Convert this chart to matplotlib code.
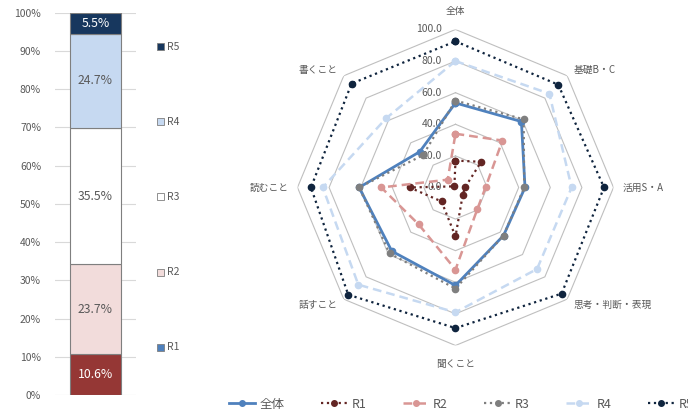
import numpy as np
import matplotlib
matplotlib.use("Agg")
import matplotlib.pyplot as plt
from matplotlib.patches import Rectangle
from matplotlib.lines import Line2D

plt.rcParams['font.family'] = ['Noto Sans CJK JP', 'DejaVu Sans']

# ---- data ----
bar_labels = ['R1', 'R2', 'R3', 'R4', 'R5']
bar_values = [10.6, 23.7, 35.5, 24.7, 5.5]
bar_colors = ['#953735', '#f2dcdb', '#ffffff', '#c6d9f1', '#17375e']
bar_text_colors = ['white', '#595959', '#595959', '#595959', 'white']
legend_sq_colors = ['#4f81bd', '#f2dcdb', '#ffffff', '#c6d9f1', '#17375e']

radar_axes = ['全体', '基礎B・C', '活用S・A', '思考・判断・表現', '聞くこと', '話すこと', '読むこと', '書くこと']
series_names = ['全体', 'R1', 'R2', 'R3', 'R4', 'R5']
zentai = [53.5, 59, 44, 43, 62, 57, 61, 32]
r1 = [17, 23, 6, 6.5, 31, 12.5, 29, 1]
r2 = [34, 42, 19, 19.5, 52, 33, 47, 7]
r3 = [55, 61, 43.5, 43, 64, 59, 61, 29]
r4 = [80, 84, 73.5, 73, 79, 87, 84, 62]
r5 = [92.5, 92, 94, 95, 89, 96, 91.5, 93]
ring_values = [0, 20, 40, 60, 80, 100]

TXT = '#595959'
FS = 7.5

fig = plt.figure(figsize=(6.88, 4.11), dpi=100)

# ---- stacked bar ----
axb = fig.add_axes([55/688, 16/411, 81/688, 382.3/411])
bottom = 0
for v, c, tc in zip(bar_values, bar_colors, bar_text_colors):
    axb.bar(0, v, bottom=bottom, width=0.64, color=c, edgecolor='#7f7f7f', linewidth=0.8, zorder=3)
    axb.text(0, bottom + v/2, f'{v:.1f}%', ha='center', va='center', color=tc, fontsize=8.8, zorder=4)
    bottom += v
axb.set_xlim(-0.5, 0.5)
axb.set_ylim(0, 100)
axb.set_yticks(np.arange(0, 101, 10))
axb.set_yticklabels([f'{t}%' for t in range(0, 101, 10)])
axb.tick_params(axis='y', length=0, pad=10, labelsize=FS, labelcolor=TXT)
axb.set_xticks([])
axb.grid(axis='y', color='#d9d9d9', linewidth=0.8, zorder=0)
for s in axb.spines.values():
    s.set_visible(False)

# bar legend
leg_y = [347, 272, 197, 122, 47]
for name, c, y in zip(bar_labels, legend_sq_colors, leg_y):
    fig.patches.append(Rectangle((157/688, (411 - y - 3.5)/411), 7/688, 7/411,
                                 transform=fig.transFigure, facecolor=c,
                                 edgecolor='#7f7f7f', linewidth=0.6))
    fig.text(167/688, (411 - y)/411, name, ha='left', va='center', fontsize=FS, color=TXT)

# ---- radar ----
axr = fig.add_axes([0.4324, 0.1594, 0.4593, 0.7689], projection='polar')
axr.set_theta_zero_location('N')
axr.set_theta_direction(-1)
axr.set_ylim(0, 100)
axr.grid(False)
axr.set_xticks([])
axr.set_yticks([])
axr.spines['polar'].set_visible(False)
axr.patch.set_alpha(0)

n = len(radar_axes)
theta = np.arange(n) * 2*np.pi/n
tc = np.append(theta, theta[0])
for rv in ring_values[1:]:
    axr.plot(tc, [rv]*(n+1), color='#bfbfbf', linewidth=0.8, zorder=1)

for rv in ring_values:
    axr.annotate(f'{rv:.1f}', (0, rv), xytext=(-10, 0), textcoords='offset points',
                 ha='right', va='center', fontsize=FS, color=TXT, zorder=2)

for t, lab in zip(theta, radar_axes):
    s = np.sin(t)
    if abs(s) < 0.1:
        ha, lr = 'center', 111.5
    else:
        ha, lr = ('left' if s > 0 else 'right'), 105.5
    axr.text(t, lr, lab, ha=ha, va='center', fontsize=7, color=TXT, clip_on=False)

styles = [
    dict(color='#4f81bd', ls='-', lw=2.0, mfc='#4f81bd'),
    dict(color='#632523', ls=':', lw=1.6, mfc='#632523'),
    dict(color='#d99694', ls=(0, (3.5, 2)), lw=1.8, mfc='#d99694'),
    dict(color='#7f7f7f', ls=':', lw=1.6, mfc='#7f7f7f'),
    dict(color='#c6d9f1', ls=(0, (3.5, 2)), lw=1.8, mfc='#c6d9f1'),
    dict(color='#0f243e', ls=':', lw=1.6, mfc='#0f243e'),
]
all_series = [zentai, r1, r2, r3, r4, r5]
handles = []
for name, vals, st in zip(series_names, all_series, styles):
    vv = np.append(vals, vals[0])
    axr.plot(tc, vv, color=st['color'], linestyle=st['ls'], linewidth=st['lw'],
             marker='o', markersize=4.5, markerfacecolor=st['mfc'],
             markeredgecolor=st['color'], zorder=3, clip_on=False)
    handles.append(Line2D([], [], color=st['color'], linestyle=st['ls'], linewidth=st['lw'],
                          marker='o', markersize=4, markerfacecolor=st['mfc'],
                          markeredgecolor=st['color'], label=name))

fig.legend(handles=handles, loc='center left', bbox_to_anchor=(229/688, 1 - 404/411),
           ncol=6, frameon=False, fontsize=9, labelcolor=TXT,
           handlelength=2.1, handletextpad=0.35, columnspacing=2.9, borderaxespad=0,
           borderpad=0)

fig.savefig('out.png', dpi=100)
